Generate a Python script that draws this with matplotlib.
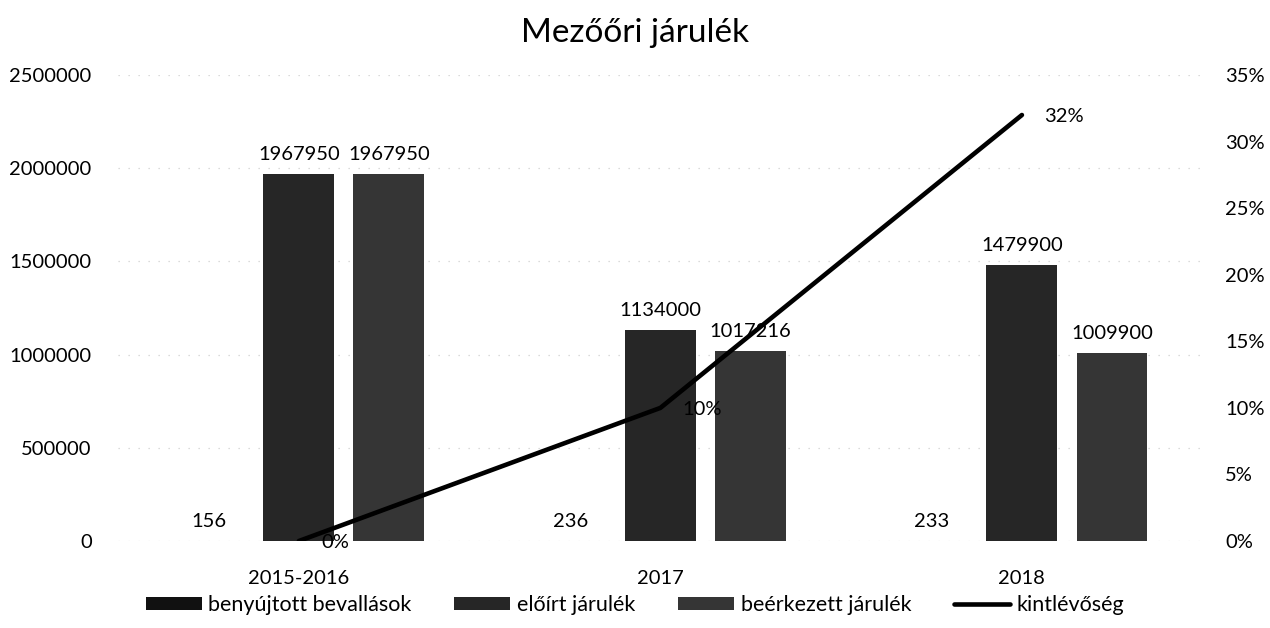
import matplotlib.pyplot as plt
import numpy as np

plt.rcParams['font.family'] = ['Lato', 'DejaVu Sans']

categories = ['2015-2016', '2017', '2018']
benyujtott = [156, 236, 233]
eloirt = [1967950, 1134000, 1479900]
beerkezett = [1967950, 1017216, 1009900]
kintlevoseg = [0.00, 0.10, 0.32]

series_names = ['benyújtott bevallások', 'előírt járulék', 'beérkezett járulék', 'kintlévőség']
bar_colors = ['#111111', '#262626', '#353535']

fig = plt.figure(figsize=(12.7, 6.28), dpi=100)
ax = fig.add_axes([0.093, 0.1385, 0.854, 0.742])
ax2 = ax.twinx()

x = np.arange(len(categories))
w = 0.196
step = 0.249
all_bars = []
for i, (vals, col) in enumerate(zip([benyujtott, eloirt, beerkezett], bar_colors)):
    bars = ax.bar(x + (i - 1) * step, vals, w, color=col, label=series_names[i], zorder=2)
    all_bars.append(bars)
    for b, v in zip(bars, vals):
        ax.annotate(str(v), (b.get_x() + b.get_width() / 2, v), xytext=(0, 8),
                    textcoords='offset points', ha='center', va='bottom', fontsize=14.5)

line, = ax2.plot(x, kintlevoseg, color='black', lw=3.3, solid_capstyle='round',
                 label=series_names[3], zorder=3)
for xi, v in zip(x, kintlevoseg):
    ax2.annotate(f'{v:.0%}', (xi, v), xytext=(16, -1), textcoords='offset points',
                 ha='left', va='center', fontsize=14.5)

ax.set_xlim(-0.5, 2.5)
ax.set_ylim(0, 2500000)
ax.set_yticks(np.arange(0, 2500001, 500000))
ax.set_yticklabels([str(v) for v in range(0, 2500001, 500000)])
ax2.set_ylim(0, 0.35)
ax2.set_yticks(np.arange(0, 0.351, 0.05))
ax2.set_yticklabels([f'{int(round(v * 100))}%' for v in np.arange(0, 0.351, 0.05)])

ax.set_xticks(x)
ax.set_xticklabels(categories)
ax.grid(axis='y', color='#d0d0d0', linestyle=(0, (1, 7)), linewidth=0.9, zorder=0)
for a in (ax, ax2):
    for s in a.spines.values():
        s.set_visible(False)
    a.tick_params(length=0, labelsize=14.5)
ax.tick_params(axis='y', pad=19)
ax.tick_params(axis='x', pad=21)
ax2.tick_params(axis='y', pad=16)

fig.suptitle('Mezőőri járulék', fontsize=24, y=0.972)

handles = all_bars + [line]
fig.legend(handles, series_names, loc='lower center', ncol=4, frameon=False,
           fontsize=15.5, bbox_to_anchor=(0.5, -0.01), handlelength=2.6,
           handleheight=0.55, handletextpad=0.3, columnspacing=2.0)

plt.savefig('out.png', dpi=100)
